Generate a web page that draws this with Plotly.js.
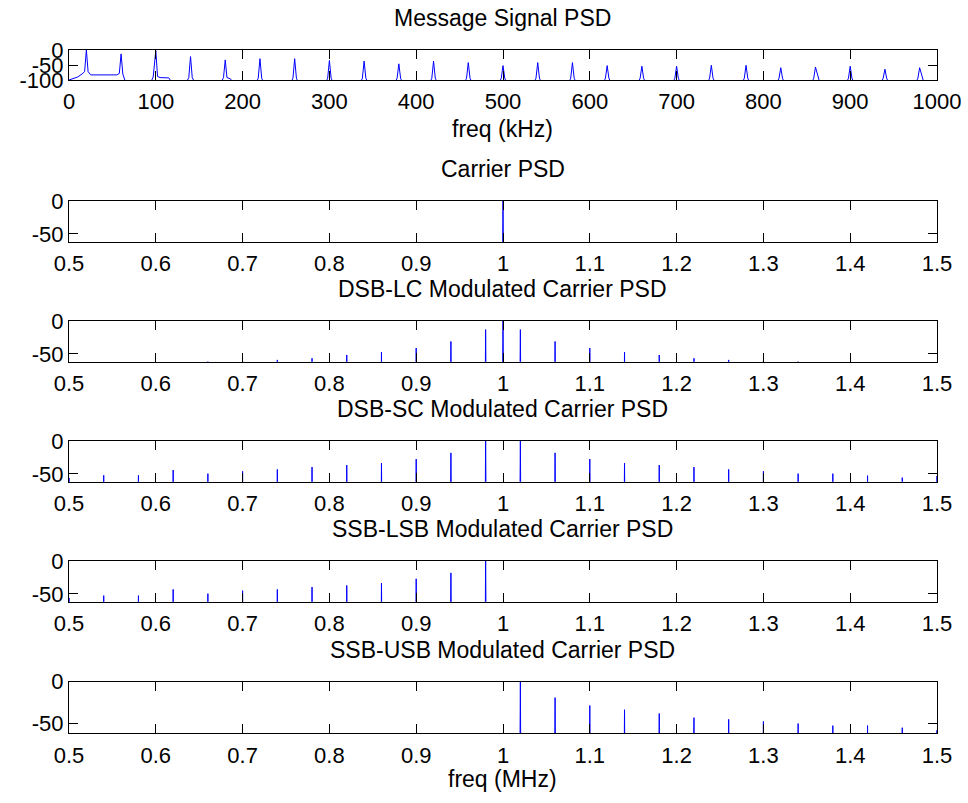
<!DOCTYPE html>
<html>
<head>
<meta charset="utf-8">
<script src="https://cdn.plot.ly/plotly-3.0.1.min.js"></script>
<style>html,body{margin:0;padding:0;background:#fff;}#chart{width:968px;height:803px;}</style>
</head>
<body>
<div id="chart"></div>
<script>
// ---------------- DATA ----------------
// Message signal PSD (kHz, dB): low-frequency part traced as a polyline
const msgLowFreq = [0, 5, 10, 15, 18, 20, 22, 25, 55, 58, 60, 62, 66,
                    93, 97, 100, 102, 105, 115, 120,
                    134, 138, 140, 142, 146,
                    174, 178, 180, 182, 186, 190];
const msgLowDb   = [-100, -96, -90, -80, -72, 0, -72, -83, -83, -78, -13, -80, -115,
                    -115, -90, -2, -88, -92, -93, -115,
                    -115, -92, -22, -92, -115,
                    -115, -92, -33, -92, -96, -115];
// remaining harmonic peaks of the message (kHz, dB)
const msgPeakFreq = [220, 260, 300, 340, 380, 420, 460, 500, 540, 580, 620, 660, 700, 740, 780, 820, 860, 900, 940, 980];
const msgPeakDb   = [-29, -29, -35, -37, -46, -37, -42, -52, -42, -42, -52, -54, -54, -51, -51, -59, -57, -54, -64, -59];

// Carrier PSD (MHz, dB)
const carrierFreq = [1.00];
const carrierDb   = [0];

// DSB-LC
const dsblcFreq = [0.66, 0.70, 0.74, 0.78, 0.82, 0.86, 0.90, 0.94, 0.98, 1.00, 1.02, 1.06, 1.10, 1.14, 1.18, 1.22, 1.26, 1.30, 1.34];
const dsblcDb   = [-61.5, -60.5, -59, -56.5, -51.5, -47, -41, -31, -13, 0, -13, -31, -41, -47, -51.5, -56.5, -59, -60.5, -61.5];

// DSB-SC
const dsbscFreq = [0.50, 0.54, 0.58, 0.62, 0.66, 0.70, 0.74, 0.78, 0.82, 0.86, 0.90, 0.94, 0.98,
                   1.02, 1.06, 1.10, 1.14, 1.18, 1.22, 1.26, 1.30, 1.34, 1.38, 1.42, 1.46, 1.50];
const dsbscDb   = [-56, -52, -52, -44, -49.5, -46, -43, -39.5, -36.5, -33.5, -27.5, -18, 0,
                   0, -18, -27.5, -33.5, -36.5, -39.5, -43, -46, -49.5, -49.5, -52.5, -55.5, -53];

// SSB-LSB
const lsbFreq = [0.50, 0.54, 0.58, 0.62, 0.66, 0.70, 0.74, 0.78, 0.82, 0.86, 0.90, 0.94, 0.98];
const lsbDb   = [-56, -52.5, -52.5, -43, -49.5, -45, -43, -39.5, -37, -33.5, -27, -18, 0];

// SSB-USB
const usbFreq = [1.02, 1.06, 1.10, 1.14, 1.18, 1.22, 1.26, 1.30, 1.34, 1.38, 1.42, 1.46, 1.50];
const usbDb   = [0, -19, -28.5, -33.5, -38, -43, -45, -47.5, -50, -52.5, -52.5, -55, -58];

const titles = ['Message Signal PSD', 'Carrier PSD', 'DSB-LC Modulated Carrier PSD',
                'DSB-SC Modulated Carrier PSD', 'SSB-LSB Modulated Carrier PSD', 'SSB-USB Modulated Carrier PSD'];
const kHzTicks = [0, 100, 200, 300, 400, 500, 600, 700, 800, 900, 1000];
const MHzTicks = [0.5, 0.6, 0.7, 0.8, 0.9, 1, 1.1, 1.2, 1.3, 1.4, 1.5];
const MHzTickText = ['0.5', '0.6', '0.7', '0.8', '0.9', '1', '1.1', '1.2', '1.3', '1.4', '1.5'];

// ---------------- BUILD ----------------
const W = 968, H = 803;
const FLOOR = -150;
function spikes(freqs, dbs, halfW) {
  const x = [], y = [];
  for (let i = 0; i < freqs.length; i++) {
    x.push(freqs[i] - halfW, freqs[i], freqs[i] + halfW);
    y.push(FLOOR, dbs[i], FLOOR);
  }
  return {x, y};
}
// message polyline
const mx = msgLowFreq.slice(), my = msgLowDb.slice();
for (let i = 0; i < msgPeakFreq.length; i++) {
  const f = msgPeakFreq[i];
  mx.push(f - 6, f - 2, f, f + 2, f + 6);
  my.push(-120, -94, msgPeakDb[i], -94, -120);
}

const series = [
  {x: mx, y: my},
  spikes(carrierFreq, carrierDb, 0.0008),
  spikes(dsblcFreq, dsblcDb, 0.0008),
  spikes(dsbscFreq, dsbscDb, 0.0008),
  spikes(lsbFreq, lsbDb, 0.0008),
  spikes(usbFreq, usbDb, 0.0008)
];

// pixel boxes of the six axes [top, bottom]
const boxes = [[50, 80], [201, 241.7], [321, 361.7], [441, 481.7], [561, 601.7], [681.7, 733.3]];
const xL = 69, xR = 937;
const FONT = 'Liberation Sans, Arial, sans-serif';
const FS = 22;      // tick labels
const TFS = 23;     // titles and axis labels

const data = [];
const layout = {
  width: W, height: H,
  margin: {l: 0, r: 0, t: 0, b: 0},
  paper_bgcolor: '#fff', plot_bgcolor: '#fff',
  showlegend: false,
  font: {family: FONT, size: FS, color: '#000'},
  annotations: []
};

for (let k = 0; k < 6; k++) {
  const s = k === 0 ? '' : String(k + 1);
  data.push({
    type: 'scatter', mode: 'lines',
    x: series[k].x, y: series[k].y,
    xaxis: 'x' + s, yaxis: 'y' + s,
    line: {color: '#0000ff', width: 1},
    hoverinfo: 'skip'
  });
  const [top, bot] = boxes[k];
  const common = {
    showline: true, linecolor: '#000', linewidth: 1,
    mirror: 'allticks', ticks: 'inside', ticklen: 9, tickwidth: 1, tickcolor: '#000',
    showgrid: false, zeroline: false, fixedrange: true,
    tickfont: {family: FONT, size: FS, color: '#000'}
  };
  layout['xaxis' + s] = Object.assign({}, common, {
    domain: [xL / W, xR / W],
    anchor: 'y' + s,
    range: k === 0 ? [0, 1000] : [0.5, 1.5],
    tickmode: 'array',
    tickvals: k === 0 ? kHzTicks : MHzTicks,
    ticktext: k === 0 ? kHzTicks.map(String) : MHzTickText,
    ticklabelstandoff: 2
  });
  layout['yaxis' + s] = Object.assign({}, common, {
    domain: [1 - bot / H, 1 - top / H],
    anchor: 'x' + s,
    range: k === 0 ? [-100, 0] : [-61.7, 0],
    tickmode: 'array',
    tickvals: k === 0 ? [-100, -50, 0] : [-50, 0],
    ticktext: k === 0 ? ['-100', '-50', '0'] : ['-50', '0']
  });
  layout.annotations.push({
    text: titles[k], xref: 'paper', yref: 'paper',
    x: (xL + xR) / 2 / W, y: 1 - (top - 32) / H,
    xanchor: 'center', yanchor: 'middle', showarrow: false,
    font: {family: FONT, size: TFS, color: '#000'}
  });
}
layout.annotations.push({
  text: 'freq (kHz)', xref: 'paper', yref: 'paper',
  x: (xL + xR) / 2 / W, y: 1 - 129 / H, xanchor: 'center', yanchor: 'middle', showarrow: false,
  font: {family: FONT, size: TFS, color: '#000'}
});
layout.annotations.push({
  text: 'freq (MHz)', xref: 'paper', yref: 'paper',
  x: (xL + xR) / 2 / W, y: 1 - 779 / H, xanchor: 'center', yanchor: 'middle', showarrow: false,
  font: {family: FONT, size: TFS, color: '#000'}
});

Plotly.newPlot('chart', data, layout, {staticPlot: true, displayModeBar: false});
</script>
</body>
</html>
